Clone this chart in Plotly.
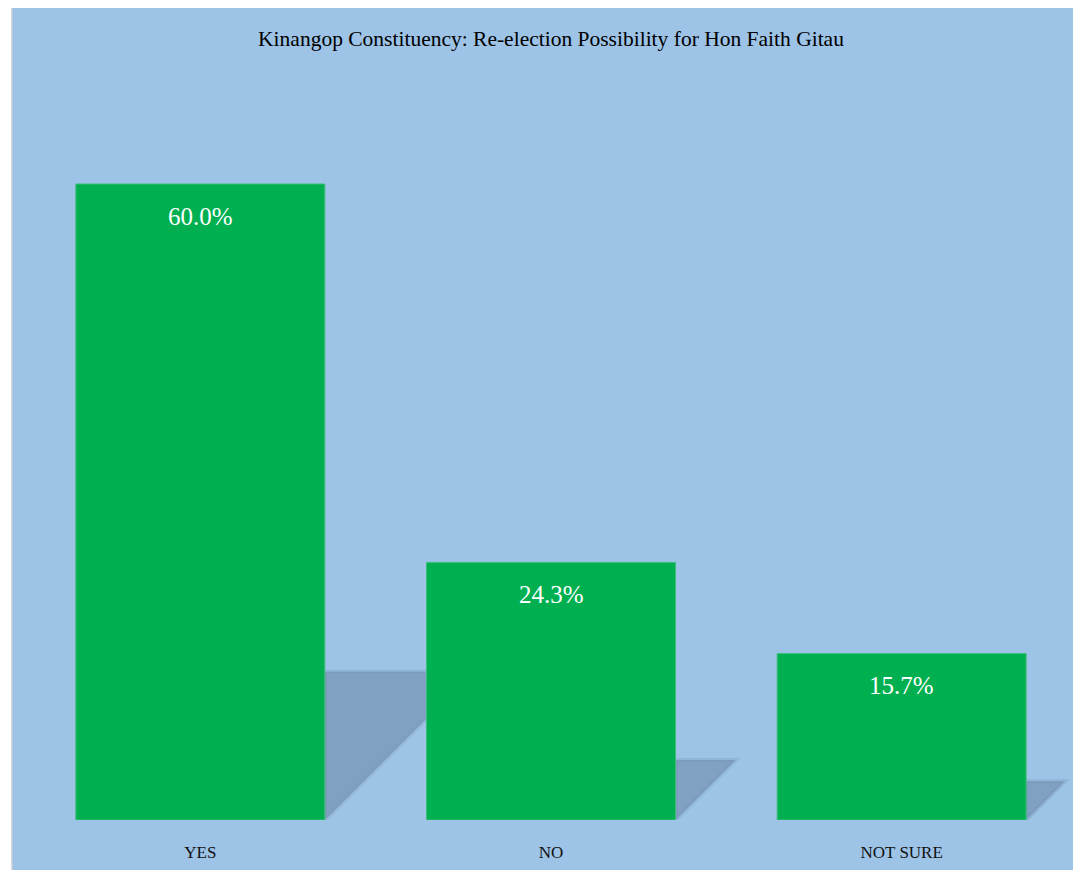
# Kinangop re-election poll, bar chart with floor shadows

import plotly.graph_objects as go

categories = ["YES", "NO", "NOT SURE"]
values = [60.0, 24.3, 15.7]
labels = ["60.0%", "24.3%", "15.7%"]

# page body keeps its 8px margin, so the figure is 8px smaller
W, H = 1073, 862
margin = dict(l=17, r=4, t=70, b=50)
y_max = 70
bar_width = 0.71

if __name__ == "__main__":

    x = list(range(len(categories)))
    plot_w = W - margin["l"] - margin["r"]
    plot_h = H - margin["t"] - margin["b"]

    # pixel scale, used to keep the shadow slant at 45 degrees
    px_x = plot_w / len(categories)
    px_y = plot_h / y_max

    fig = go.Figure()
    fig.add_trace(
            go.Bar(
                x=x,
                y=values,
                width=bar_width,
                marker=dict(color="#00B050",
                            line=dict(color="#3DBE78", width=1)),
                hoverinfo="skip"))

    shapes = []
    for xi, v in zip(x, values):
        xr = xi + bar_width / 2
        hv = 0.233 * v
        dx = hv * px_y / px_x
        shapes.append(dict(
            type="path", layer="below", xref="x", yref="y",
            path="M %f,0 L %f,%f L %f,%f Z" % (xr, xr, hv, xr + dx, hv),
            fillcolor="rgba(112,140,172,0.62)",
            line=dict(color="rgba(112,140,172,0.25)", width=4)))

    # white strip and thin grey frame on the left edge
    lx = -margin["l"] / plot_w
    edge = lx + 4 / plot_w
    shapes.append(dict(type="rect", xref="paper", yref="paper",
                       x0=lx - 0.01, x1=edge, y0=-0.2, y1=1.2,
                       fillcolor="white", line=dict(width=0), layer="above"))
    shapes.append(dict(type="line", xref="paper", yref="paper",
                       x0=edge, x1=edge, y0=-0.2, y1=1.2,
                       line=dict(color="#C8CCD2", width=1.5)))

    annotations = []
    for xi, v, t in zip(x, values, labels):
        annotations.append(dict(
            x=xi, y=v, xref="x", yref="y", text=t, showarrow=False,
            yanchor="middle", yshift=-32,
            font=dict(family="Liberation Serif", size=25, color="white")))

    fig.update_layout(
            width=W, height=H,
            margin=margin,
            paper_bgcolor="#9DC3E6",
            plot_bgcolor="#9DC3E6",
            showlegend=False,
            shapes=shapes,
            annotations=annotations,
            title=dict(
                text="Kinangop Constituency: Re-election Possibility for Hon Faith Gitau",
                x=0.5, xref="paper", xanchor="center",
                y=1 - 30 / H, yref="container", yanchor="middle",
                font=dict(family="Liberation Serif", size=21.5, color="black")),
            xaxis=dict(
                tickmode="array", tickvals=x, ticktext=categories,
                range=[-0.5, len(categories) - 0.5],
                showgrid=False, zeroline=False, showline=False,
                ticks="", ticklabelstandoff=20,
                tickfont=dict(family="Liberation Serif", size=17,
                              color="#111111")),
            yaxis=dict(
                range=[0, y_max], visible=False,
                showgrid=False, zeroline=False))

    fig.write_html("out.html")
